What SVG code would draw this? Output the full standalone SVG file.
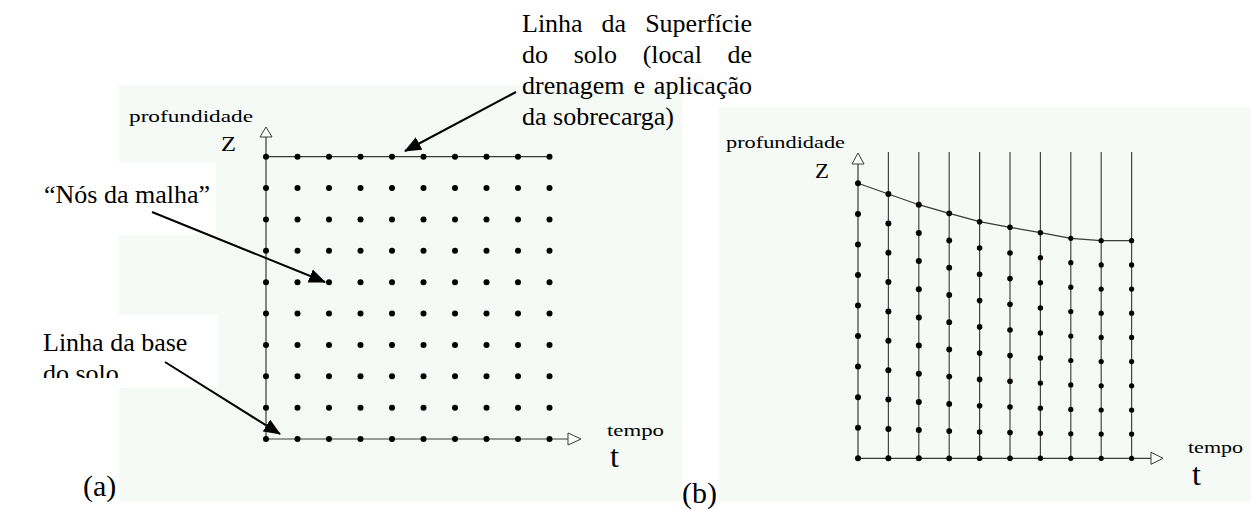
<svg xmlns="http://www.w3.org/2000/svg" width="1251" height="511" viewBox="0 0 1251 511" font-family="'Liberation Serif', 'DejaVu Serif', serif">
<style>
  .bg{fill:#f5faf6}
  .box{fill:#ffffff}
  .ax{stroke:#3a3a3a;stroke-width:1.2;fill:none}
  .col{stroke:#444;stroke-width:1.2;fill:none}
  .head{fill:#ffffff;stroke:#3a3a3a;stroke-width:1}
  .dot{fill:#000}
  text{font-family:'Liberation Serif','DejaVu Serif',serif;fill:#000}
  .lbl{font-size:26px}
  .sm{font-size:17px}
  .big{font-size:32px}
  .zz{font-size:20px}
  .arr{stroke:#000;stroke-width:2;fill:none}
</style>
<defs>
  <marker id="ah" markerUnits="userSpaceOnUse" markerWidth="18" markerHeight="14" refX="16" refY="7" orient="auto">
    <path d="M0,0 L17,7 L0,14 Z" fill="#000"/>
  </marker>
  <clipPath id="clipBase"><rect x="0" y="315" width="218" height="63"/></clipPath>
</defs>

<g id="backgrounds">
  <rect class="bg" x="119" y="85" width="563" height="417"/>
  <rect class="bg" x="719" y="107" width="532" height="395"/>
</g>

<g id="callout-surface">
  <text class="lbl" y="32"><tspan x="522">Linha</tspan><tspan x="601.6">da</tspan><tspan x="752" text-anchor="end">Superfície</tspan></text>
  <text class="lbl" y="63"><tspan x="522">do</tspan><tspan x="573.7">solo</tspan><tspan x="642.7">(local</tspan><tspan x="752" text-anchor="end">de</tspan></text>
  <text class="lbl" y="94"><tspan x="522">drenagem</tspan><tspan x="633.4">e</tspan><tspan x="752" text-anchor="end">aplicação</tspan></text>
  <text class="lbl" x="522" y="125">da sobrecarga)</text>
</g>

<g id="label-nos">
  <rect class="box" x="30" y="162" width="186" height="73"/>
  <text class="lbl" x="44" y="203">“Nós da malha”</text>
</g>

<g id="label-base">
  <rect class="box" x="30" y="315" width="188" height="73"/>
  <g clip-path="url(#clipBase)">
    <text class="lbl" x="43" y="351">Linha da base</text>
    <text class="lbl" x="43" y="382">do solo</text>
  </g>
</g>

<g id="panel-a">
  <text class="sm" x="129" y="122" textLength="124" lengthAdjust="spacingAndGlyphs">profundidade</text>
  <text class="zz" x="221" y="151" textLength="15" lengthAdjust="spacingAndGlyphs">Z</text>
  <text class="sm" x="607" y="436" textLength="57" lengthAdjust="spacingAndGlyphs">tempo</text>
  <text class="big" x="610" y="467">t</text>
  <text class="lbl" x="83" y="496" style="font-size:30px">(a)</text>
  <line class="ax" x1="266" y1="439" x2="266" y2="137"/>
  <polygon class="head" points="266,127 260,137 272,137"/>
  <line class="ax" x1="266" y1="439" x2="568" y2="439"/>
  <polygon class="head" points="581,439 568,433 568,445"/>
  <line class="ax" x1="266" y1="156.7" x2="549.5" y2="156.7"/>
  <g id="grid-a-dots">
    <circle class="dot" cx="266" cy="156.7" r="3"/><circle class="dot" cx="297.5" cy="156.7" r="3"/><circle class="dot" cx="329" cy="156.7" r="3"/><circle class="dot" cx="360.5" cy="156.7" r="3"/><circle class="dot" cx="392" cy="156.7" r="3"/><circle class="dot" cx="423.5" cy="156.7" r="3"/><circle class="dot" cx="455" cy="156.7" r="3"/><circle class="dot" cx="486.5" cy="156.7" r="3"/><circle class="dot" cx="518" cy="156.7" r="3"/><circle class="dot" cx="549.5" cy="156.7" r="3"/>
    <circle class="dot" cx="266" cy="188.1" r="3"/><circle class="dot" cx="297.5" cy="188.1" r="3"/><circle class="dot" cx="329" cy="188.1" r="3"/><circle class="dot" cx="360.5" cy="188.1" r="3"/><circle class="dot" cx="392" cy="188.1" r="3"/><circle class="dot" cx="423.5" cy="188.1" r="3"/><circle class="dot" cx="455" cy="188.1" r="3"/><circle class="dot" cx="486.5" cy="188.1" r="3"/><circle class="dot" cx="518" cy="188.1" r="3"/><circle class="dot" cx="549.5" cy="188.1" r="3"/>
    <circle class="dot" cx="266" cy="219.4" r="3"/><circle class="dot" cx="297.5" cy="219.4" r="3"/><circle class="dot" cx="329" cy="219.4" r="3"/><circle class="dot" cx="360.5" cy="219.4" r="3"/><circle class="dot" cx="392" cy="219.4" r="3"/><circle class="dot" cx="423.5" cy="219.4" r="3"/><circle class="dot" cx="455" cy="219.4" r="3"/><circle class="dot" cx="486.5" cy="219.4" r="3"/><circle class="dot" cx="518" cy="219.4" r="3"/><circle class="dot" cx="549.5" cy="219.4" r="3"/>
    <circle class="dot" cx="266" cy="250.8" r="3"/><circle class="dot" cx="297.5" cy="250.8" r="3"/><circle class="dot" cx="329" cy="250.8" r="3"/><circle class="dot" cx="360.5" cy="250.8" r="3"/><circle class="dot" cx="392" cy="250.8" r="3"/><circle class="dot" cx="423.5" cy="250.8" r="3"/><circle class="dot" cx="455" cy="250.8" r="3"/><circle class="dot" cx="486.5" cy="250.8" r="3"/><circle class="dot" cx="518" cy="250.8" r="3"/><circle class="dot" cx="549.5" cy="250.8" r="3"/>
    <circle class="dot" cx="266" cy="282.2" r="3"/><circle class="dot" cx="297.5" cy="282.2" r="3"/><circle class="dot" cx="329" cy="282.2" r="3"/><circle class="dot" cx="360.5" cy="282.2" r="3"/><circle class="dot" cx="392" cy="282.2" r="3"/><circle class="dot" cx="423.5" cy="282.2" r="3"/><circle class="dot" cx="455" cy="282.2" r="3"/><circle class="dot" cx="486.5" cy="282.2" r="3"/><circle class="dot" cx="518" cy="282.2" r="3"/><circle class="dot" cx="549.5" cy="282.2" r="3"/>
    <circle class="dot" cx="266" cy="313.6" r="3"/><circle class="dot" cx="297.5" cy="313.6" r="3"/><circle class="dot" cx="329" cy="313.6" r="3"/><circle class="dot" cx="360.5" cy="313.6" r="3"/><circle class="dot" cx="392" cy="313.6" r="3"/><circle class="dot" cx="423.5" cy="313.6" r="3"/><circle class="dot" cx="455" cy="313.6" r="3"/><circle class="dot" cx="486.5" cy="313.6" r="3"/><circle class="dot" cx="518" cy="313.6" r="3"/><circle class="dot" cx="549.5" cy="313.6" r="3"/>
    <circle class="dot" cx="266" cy="344.9" r="3"/><circle class="dot" cx="297.5" cy="344.9" r="3"/><circle class="dot" cx="329" cy="344.9" r="3"/><circle class="dot" cx="360.5" cy="344.9" r="3"/><circle class="dot" cx="392" cy="344.9" r="3"/><circle class="dot" cx="423.5" cy="344.9" r="3"/><circle class="dot" cx="455" cy="344.9" r="3"/><circle class="dot" cx="486.5" cy="344.9" r="3"/><circle class="dot" cx="518" cy="344.9" r="3"/><circle class="dot" cx="549.5" cy="344.9" r="3"/>
    <circle class="dot" cx="266" cy="376.3" r="3"/><circle class="dot" cx="297.5" cy="376.3" r="3"/><circle class="dot" cx="329" cy="376.3" r="3"/><circle class="dot" cx="360.5" cy="376.3" r="3"/><circle class="dot" cx="392" cy="376.3" r="3"/><circle class="dot" cx="423.5" cy="376.3" r="3"/><circle class="dot" cx="455" cy="376.3" r="3"/><circle class="dot" cx="486.5" cy="376.3" r="3"/><circle class="dot" cx="518" cy="376.3" r="3"/><circle class="dot" cx="549.5" cy="376.3" r="3"/>
    <circle class="dot" cx="266" cy="407.7" r="3"/><circle class="dot" cx="297.5" cy="407.7" r="3"/><circle class="dot" cx="329" cy="407.7" r="3"/><circle class="dot" cx="360.5" cy="407.7" r="3"/><circle class="dot" cx="392" cy="407.7" r="3"/><circle class="dot" cx="423.5" cy="407.7" r="3"/><circle class="dot" cx="455" cy="407.7" r="3"/><circle class="dot" cx="486.5" cy="407.7" r="3"/><circle class="dot" cx="518" cy="407.7" r="3"/><circle class="dot" cx="549.5" cy="407.7" r="3"/>
    <circle class="dot" cx="266" cy="439" r="3"/><circle class="dot" cx="297.5" cy="439" r="3"/><circle class="dot" cx="329" cy="439" r="3"/><circle class="dot" cx="360.5" cy="439" r="3"/><circle class="dot" cx="392" cy="439" r="3"/><circle class="dot" cx="423.5" cy="439" r="3"/><circle class="dot" cx="455" cy="439" r="3"/><circle class="dot" cx="486.5" cy="439" r="3"/><circle class="dot" cx="518" cy="439" r="3"/><circle class="dot" cx="549.5" cy="439" r="3"/>
  </g>
</g>

<g id="panel-b">
  <text class="sm" x="726" y="148" textLength="119" lengthAdjust="spacingAndGlyphs">profundidade</text>
  <text class="zz" x="815" y="178" textLength="14" lengthAdjust="spacingAndGlyphs">Z</text>
  <text class="sm" x="1188" y="453" textLength="55" lengthAdjust="spacingAndGlyphs">tempo</text>
  <text class="big" x="1192" y="485">t</text>
  <text class="lbl" x="682" y="503" style="font-size:30px">(b)</text>
  <g id="columns-b">
    <line class="col" x1="888.4" y1="152" x2="888.4" y2="458.3"/>
    <line class="col" x1="918.8" y1="152" x2="918.8" y2="458.3"/>
    <line class="col" x1="949.2" y1="152" x2="949.2" y2="458.3"/>
    <line class="col" x1="979.6" y1="152" x2="979.6" y2="458.3"/>
    <line class="col" x1="1010" y1="152" x2="1010" y2="458.3"/>
    <line class="col" x1="1040.4" y1="152" x2="1040.4" y2="458.3"/>
    <line class="col" x1="1070.8" y1="152" x2="1070.8" y2="458.3"/>
    <line class="col" x1="1101.2" y1="152" x2="1101.2" y2="458.3"/>
    <line class="col" x1="1131.6" y1="152" x2="1131.6" y2="458.3"/>
  </g>
  <line class="ax" x1="858" y1="458.3" x2="858" y2="164"/>
  <polygon class="head" points="858,153 852,164 864,164"/>
  <line class="ax" x1="858" y1="458.3" x2="1151" y2="458.3"/>
  <polygon class="head" points="1163,458.3 1151,452.3 1151,464.3"/>
  <polyline class="ax" points="858,183.3 888.4,194 918.8,204.7 949.2,213.3 979.6,221.7 1010,227.3 1040.4,232.7 1070.8,238.3 1101.2,240.7 1131.6,240.7"/>
  <g id="grid-b-dots">
    <circle class="dot" cx="858" cy="183.3" r="3"/><circle class="dot" cx="858" cy="213.9" r="3"/><circle class="dot" cx="858" cy="244.4" r="3"/><circle class="dot" cx="858" cy="275" r="3"/><circle class="dot" cx="858" cy="305.5" r="3"/><circle class="dot" cx="858" cy="336.1" r="3"/><circle class="dot" cx="858" cy="366.6" r="3"/><circle class="dot" cx="858" cy="397.2" r="3"/><circle class="dot" cx="858" cy="427.7" r="3"/><circle class="dot" cx="858" cy="458.3" r="3"/>
    <circle class="dot" cx="888.4" cy="194" r="3"/><circle class="dot" cx="888.4" cy="223.4" r="3"/><circle class="dot" cx="888.4" cy="252.7" r="3"/><circle class="dot" cx="888.4" cy="282.1" r="3"/><circle class="dot" cx="888.4" cy="311.5" r="3"/><circle class="dot" cx="888.4" cy="340.8" r="3"/><circle class="dot" cx="888.4" cy="370.2" r="3"/><circle class="dot" cx="888.4" cy="399.6" r="3"/><circle class="dot" cx="888.4" cy="428.9" r="3"/><circle class="dot" cx="888.4" cy="458.3" r="3"/>
    <circle class="dot" cx="918.8" cy="204.7" r="3"/><circle class="dot" cx="918.8" cy="232.9" r="3"/><circle class="dot" cx="918.8" cy="261.1" r="3"/><circle class="dot" cx="918.8" cy="289.2" r="3"/><circle class="dot" cx="918.8" cy="317.4" r="3"/><circle class="dot" cx="918.8" cy="345.6" r="3"/><circle class="dot" cx="918.8" cy="373.8" r="3"/><circle class="dot" cx="918.8" cy="402" r="3"/><circle class="dot" cx="918.8" cy="430.1" r="3"/><circle class="dot" cx="918.8" cy="458.3" r="3"/>
    <circle class="dot" cx="949.2" cy="213.3" r="2.9"/><circle class="dot" cx="949.2" cy="240.5" r="2.9"/><circle class="dot" cx="949.2" cy="267.7" r="2.9"/><circle class="dot" cx="949.2" cy="295" r="2.9"/><circle class="dot" cx="949.2" cy="322.2" r="2.9"/><circle class="dot" cx="949.2" cy="349.4" r="2.9"/><circle class="dot" cx="949.2" cy="376.6" r="2.9"/><circle class="dot" cx="949.2" cy="403.9" r="2.9"/><circle class="dot" cx="949.2" cy="431.1" r="2.9"/><circle class="dot" cx="949.2" cy="458.3" r="2.9"/>
    <circle class="dot" cx="979.6" cy="221.7" r="2.8"/><circle class="dot" cx="979.6" cy="248" r="2.8"/><circle class="dot" cx="979.6" cy="274.3" r="2.8"/><circle class="dot" cx="979.6" cy="300.6" r="2.8"/><circle class="dot" cx="979.6" cy="326.9" r="2.8"/><circle class="dot" cx="979.6" cy="353.1" r="2.8"/><circle class="dot" cx="979.6" cy="379.4" r="2.8"/><circle class="dot" cx="979.6" cy="405.7" r="2.8"/><circle class="dot" cx="979.6" cy="432" r="2.8"/><circle class="dot" cx="979.6" cy="458.3" r="2.8"/>
    <circle class="dot" cx="1010" cy="227.3" r="2.8"/><circle class="dot" cx="1010" cy="253" r="2.8"/><circle class="dot" cx="1010" cy="278.6" r="2.8"/><circle class="dot" cx="1010" cy="304.3" r="2.8"/><circle class="dot" cx="1010" cy="330" r="2.8"/><circle class="dot" cx="1010" cy="355.6" r="2.8"/><circle class="dot" cx="1010" cy="381.3" r="2.8"/><circle class="dot" cx="1010" cy="407" r="2.8"/><circle class="dot" cx="1010" cy="432.6" r="2.8"/><circle class="dot" cx="1010" cy="458.3" r="2.8"/>
    <circle class="dot" cx="1040.4" cy="232.7" r="2.7"/><circle class="dot" cx="1040.4" cy="257.8" r="2.7"/><circle class="dot" cx="1040.4" cy="282.8" r="2.7"/><circle class="dot" cx="1040.4" cy="307.9" r="2.7"/><circle class="dot" cx="1040.4" cy="333" r="2.7"/><circle class="dot" cx="1040.4" cy="358" r="2.7"/><circle class="dot" cx="1040.4" cy="383.1" r="2.7"/><circle class="dot" cx="1040.4" cy="408.2" r="2.7"/><circle class="dot" cx="1040.4" cy="433.2" r="2.7"/><circle class="dot" cx="1040.4" cy="458.3" r="2.7"/>
    <circle class="dot" cx="1070.8" cy="238.3" r="2.6"/><circle class="dot" cx="1070.8" cy="262.7" r="2.6"/><circle class="dot" cx="1070.8" cy="287.2" r="2.6"/><circle class="dot" cx="1070.8" cy="311.6" r="2.6"/><circle class="dot" cx="1070.8" cy="336.1" r="2.6"/><circle class="dot" cx="1070.8" cy="360.5" r="2.6"/><circle class="dot" cx="1070.8" cy="384.9" r="2.6"/><circle class="dot" cx="1070.8" cy="409.4" r="2.6"/><circle class="dot" cx="1070.8" cy="433.8" r="2.6"/><circle class="dot" cx="1070.8" cy="458.3" r="2.6"/>
    <circle class="dot" cx="1101.2" cy="240.7" r="2.6"/><circle class="dot" cx="1101.2" cy="264.9" r="2.6"/><circle class="dot" cx="1101.2" cy="289.1" r="2.6"/><circle class="dot" cx="1101.2" cy="313.2" r="2.6"/><circle class="dot" cx="1101.2" cy="337.4" r="2.6"/><circle class="dot" cx="1101.2" cy="361.6" r="2.6"/><circle class="dot" cx="1101.2" cy="385.8" r="2.6"/><circle class="dot" cx="1101.2" cy="410" r="2.6"/><circle class="dot" cx="1101.2" cy="434.1" r="2.6"/><circle class="dot" cx="1101.2" cy="458.3" r="2.6"/>
    <circle class="dot" cx="1131.6" cy="240.7" r="2.6"/><circle class="dot" cx="1131.6" cy="264.9" r="2.6"/><circle class="dot" cx="1131.6" cy="289.1" r="2.6"/><circle class="dot" cx="1131.6" cy="313.2" r="2.6"/><circle class="dot" cx="1131.6" cy="337.4" r="2.6"/><circle class="dot" cx="1131.6" cy="361.6" r="2.6"/><circle class="dot" cx="1131.6" cy="385.8" r="2.6"/><circle class="dot" cx="1131.6" cy="410" r="2.6"/><circle class="dot" cx="1131.6" cy="434.1" r="2.6"/><circle class="dot" cx="1131.6" cy="458.3" r="2.6"/>
  </g>
</g>

<g id="connectors">
  <line class="arr" x1="516" y1="92" x2="405" y2="151" marker-end="url(#ah)"/>
  <line class="arr" x1="152" y1="212" x2="325" y2="282" marker-end="url(#ah)"/>
  <line class="arr" x1="165" y1="362" x2="280" y2="434" marker-end="url(#ah)"/>
</g>
</svg>
